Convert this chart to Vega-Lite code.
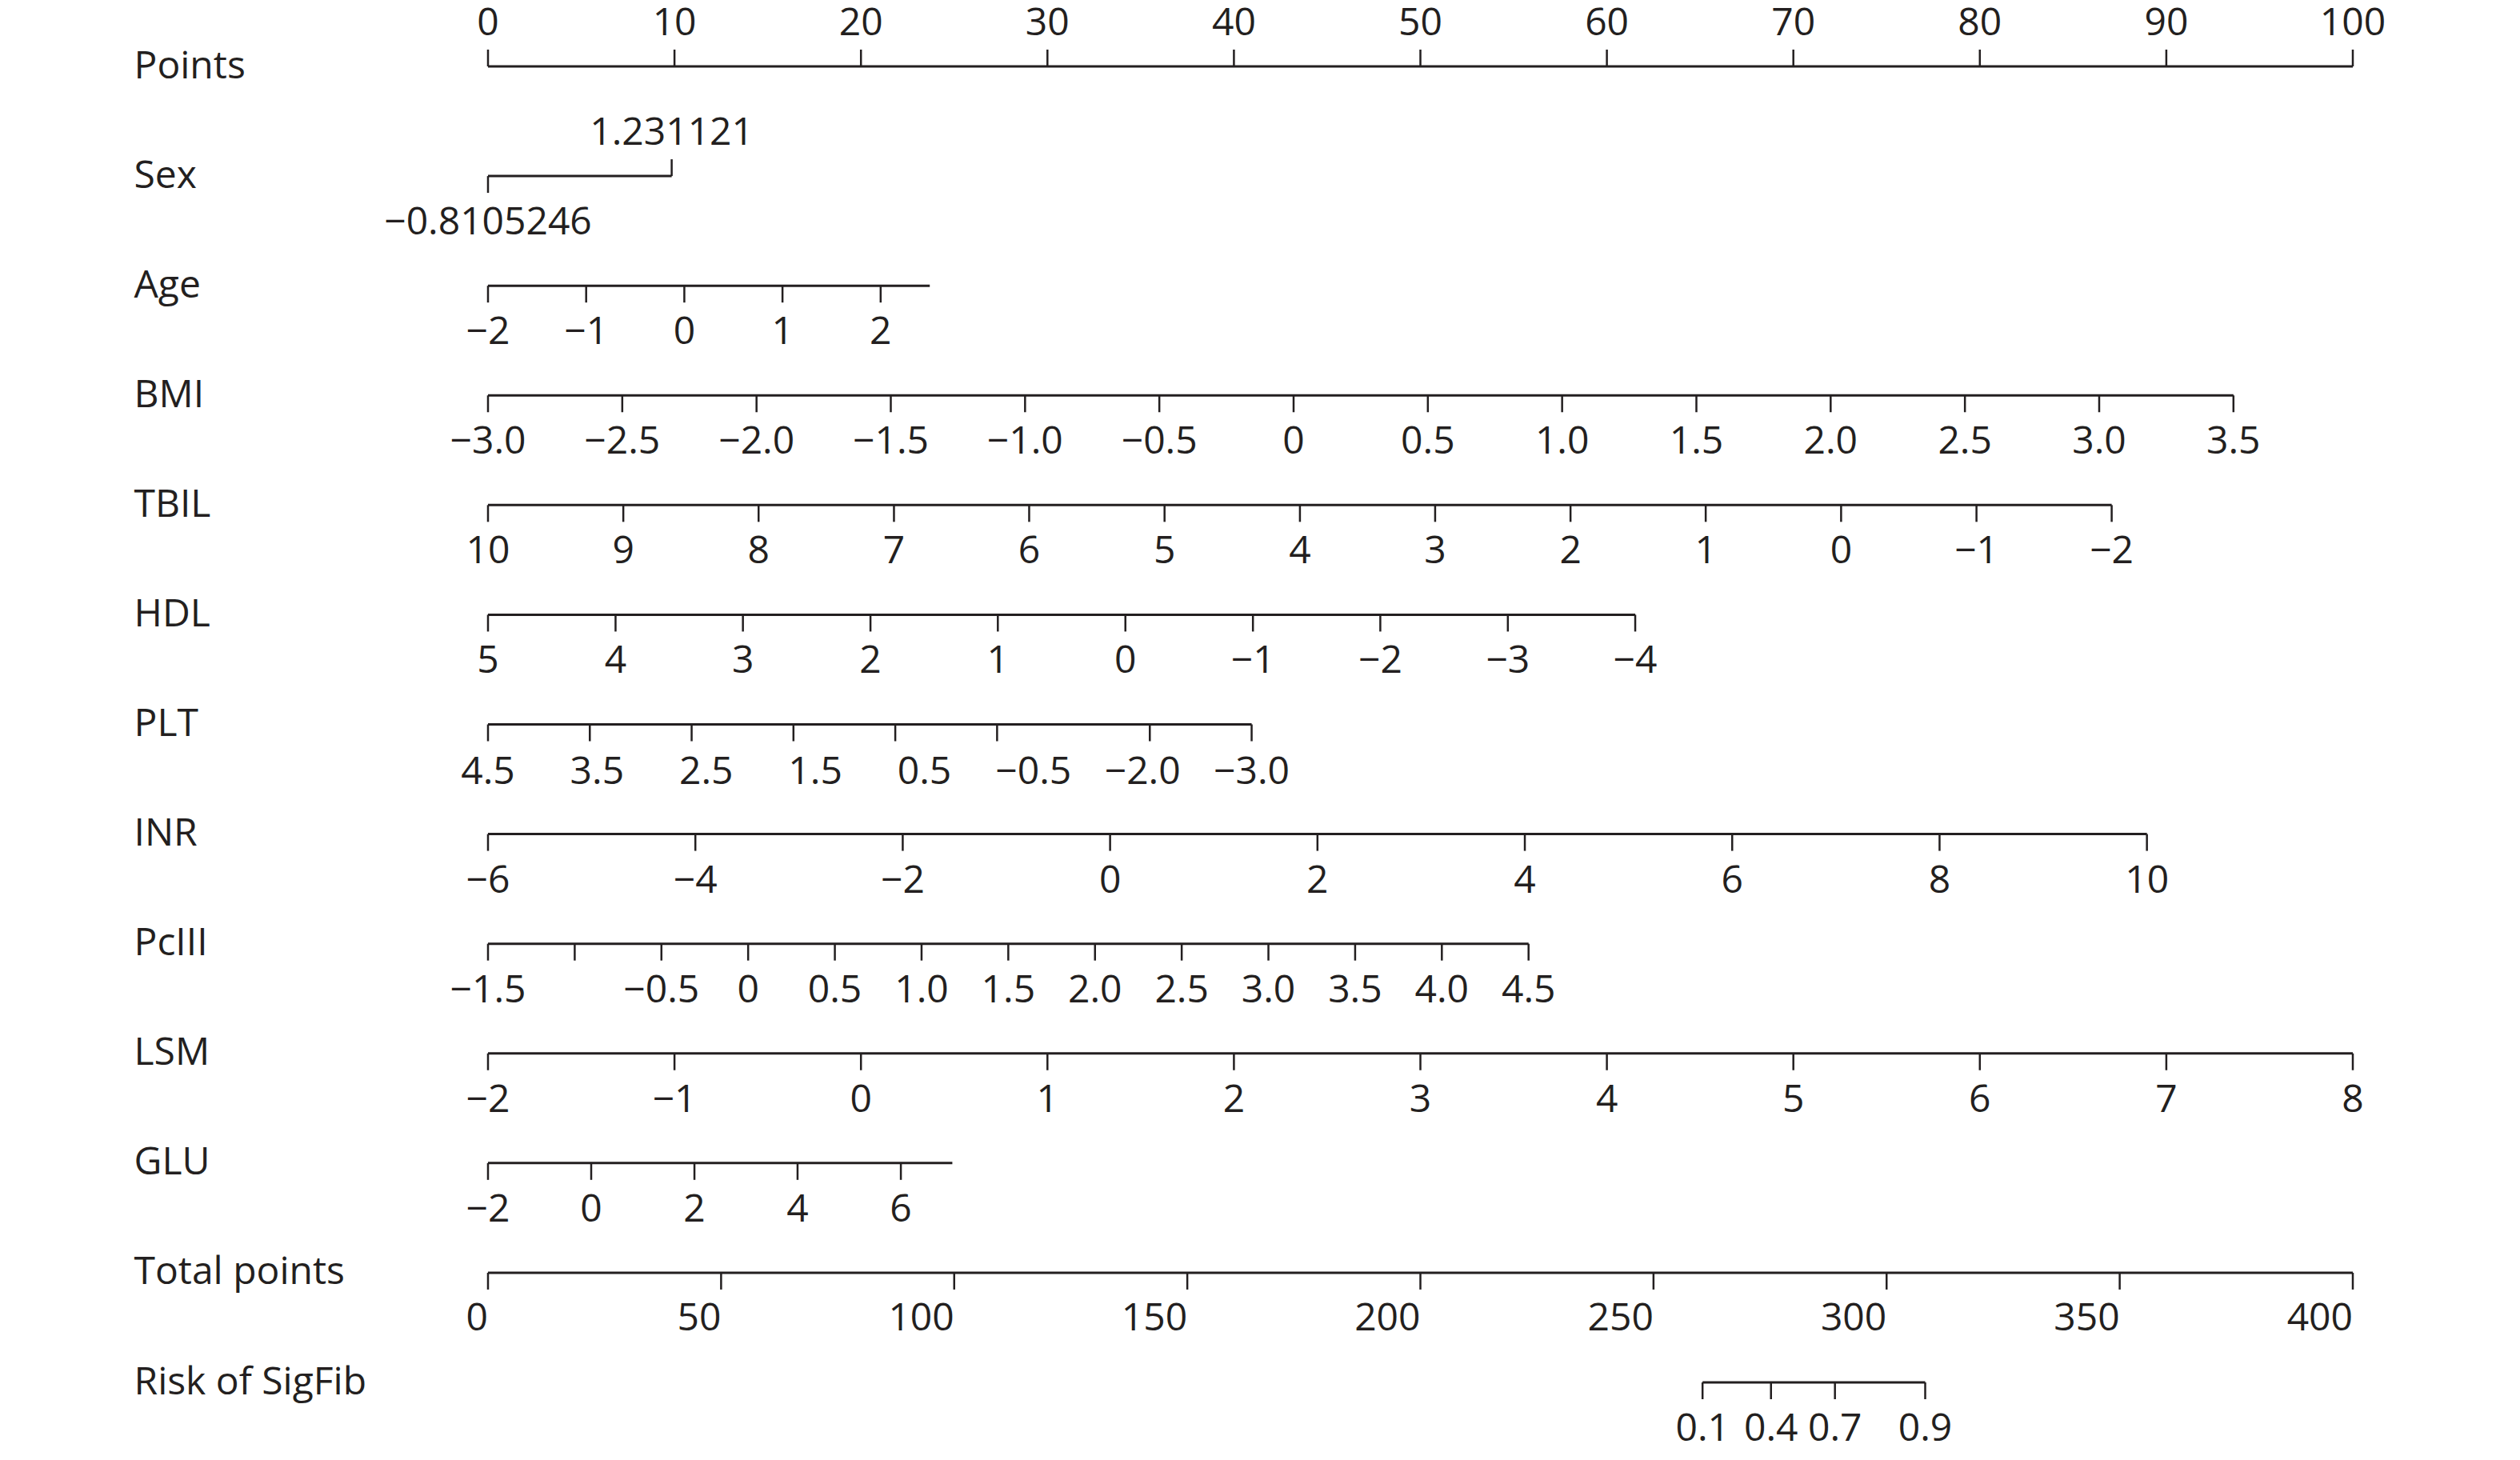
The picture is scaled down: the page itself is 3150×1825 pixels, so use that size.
{
  "$schema": "https://vega.github.io/schema/vega-lite/v6.json",
  "autosize": "none",
  "width": 2331,
  "height": 1645,
  "padding": {"left": 610, "top": 83, "right": 209, "bottom": 97},
  "background": "white",
  "config": {"view": {"stroke": null}, "font": "Open Sans"},
  "datasets": {
    "segs": [
      {"var": "Points", "from": 0, "to": 100},
      {"var": "Sex", "from": 0, "to": 9.85},
      {"var": "Age", "from": 0, "to": 23.69},
      {"var": "BMI", "from": 0, "to": 93.6},
      {"var": "TBIL", "from": 0, "to": 87.07},
      {"var": "HDL", "from": 0, "to": 61.52},
      {"var": "PLT", "from": 0, "to": 40.95},
      {"var": "INR", "from": 0, "to": 88.96},
      {"var": "PcIII", "from": 0, "to": 55.8},
      {"var": "LSM", "from": 0, "to": 100},
      {"var": "GLU", "from": 0, "to": 24.9},
      {"var": "Total points", "from": 0, "to": 100},
      {"var": "Risk of SigFib", "from": 65.13, "to": 77.07}
    ],
    "ticks": [
      {"var": "Points", "label": "0", "pts": 0},
      {"var": "Points", "label": "10", "pts": 10},
      {"var": "Points", "label": "20", "pts": 20},
      {"var": "Points", "label": "30", "pts": 30},
      {"var": "Points", "label": "40", "pts": 40},
      {"var": "Points", "label": "50", "pts": 50},
      {"var": "Points", "label": "60", "pts": 60},
      {"var": "Points", "label": "70", "pts": 70},
      {"var": "Points", "label": "80", "pts": 80},
      {"var": "Points", "label": "90", "pts": 90},
      {"var": "Points", "label": "100", "pts": 100},
      {"var": "Sex", "label": "−0.8105246", "pts": 0},
      {"var": "Sex", "label": "1.231121", "pts": 9.85},
      {"var": "Age", "label": "−2", "pts": 0},
      {"var": "Age", "label": "−1", "pts": 5.264},
      {"var": "Age", "label": "0", "pts": 10.528},
      {"var": "Age", "label": "1", "pts": 15.792},
      {"var": "Age", "label": "2", "pts": 21.056},
      {"var": "BMI", "label": "−3.0", "pts": 0},
      {"var": "BMI", "label": "−2.5", "pts": 7.2},
      {"var": "BMI", "label": "−2.0", "pts": 14.4},
      {"var": "BMI", "label": "−1.5", "pts": 21.6},
      {"var": "BMI", "label": "−1.0", "pts": 28.8},
      {"var": "BMI", "label": "−0.5", "pts": 36.0},
      {"var": "BMI", "label": "0", "pts": 43.2},
      {"var": "BMI", "label": "0.5", "pts": 50.4},
      {"var": "BMI", "label": "1.0", "pts": 57.6},
      {"var": "BMI", "label": "1.5", "pts": 64.8},
      {"var": "BMI", "label": "2.0", "pts": 72.0},
      {"var": "BMI", "label": "2.5", "pts": 79.2},
      {"var": "BMI", "label": "3.0", "pts": 86.4},
      {"var": "BMI", "label": "3.5", "pts": 93.6},
      {"var": "TBIL", "label": "10", "pts": 0},
      {"var": "TBIL", "label": "9", "pts": 7.256},
      {"var": "TBIL", "label": "8", "pts": 14.51},
      {"var": "TBIL", "label": "7", "pts": 21.77},
      {"var": "TBIL", "label": "6", "pts": 29.02},
      {"var": "TBIL", "label": "5", "pts": 36.28},
      {"var": "TBIL", "label": "4", "pts": 43.54},
      {"var": "TBIL", "label": "3", "pts": 50.79},
      {"var": "TBIL", "label": "2", "pts": 58.05},
      {"var": "TBIL", "label": "1", "pts": 65.3},
      {"var": "TBIL", "label": "0", "pts": 72.56},
      {"var": "TBIL", "label": "−1", "pts": 79.82},
      {"var": "TBIL", "label": "−2", "pts": 87.07},
      {"var": "HDL", "label": "5", "pts": 0},
      {"var": "HDL", "label": "4", "pts": 6.84},
      {"var": "HDL", "label": "3", "pts": 13.67},
      {"var": "HDL", "label": "2", "pts": 20.51},
      {"var": "HDL", "label": "1", "pts": 27.34},
      {"var": "HDL", "label": "0", "pts": 34.18},
      {"var": "HDL", "label": "−1", "pts": 41.02},
      {"var": "HDL", "label": "−2", "pts": 47.85},
      {"var": "HDL", "label": "−3", "pts": 54.69},
      {"var": "HDL", "label": "−4", "pts": 61.52},
      {"var": "PLT", "label": "4.5", "pts": 0, "lpts": 0},
      {"var": "PLT", "label": "3.5", "pts": 5.46, "lpts": 5.85},
      {"var": "PLT", "label": "2.5", "pts": 10.92, "lpts": 11.7},
      {"var": "PLT", "label": "1.5", "pts": 16.38, "lpts": 17.55},
      {"var": "PLT", "label": "0.5", "pts": 21.84, "lpts": 23.4},
      {"var": "PLT", "label": "−0.5", "pts": 27.3, "lpts": 29.25},
      {"var": "PLT", "label": "−2.0", "pts": 35.49, "lpts": 35.1},
      {"var": "PLT", "label": "−3.0", "pts": 40.95, "lpts": 40.95},
      {"var": "INR", "label": "−6", "pts": 0},
      {"var": "INR", "label": "−4", "pts": 11.12},
      {"var": "INR", "label": "−2", "pts": 22.24},
      {"var": "INR", "label": "0", "pts": 33.36},
      {"var": "INR", "label": "2", "pts": 44.48},
      {"var": "INR", "label": "4", "pts": 55.6},
      {"var": "INR", "label": "6", "pts": 66.72},
      {"var": "INR", "label": "8", "pts": 77.84},
      {"var": "INR", "label": "10", "pts": 88.96},
      {"var": "PcIII", "label": "−1.5", "pts": 0},
      {"var": "PcIII", "label": "", "pts": 4.65},
      {"var": "PcIII", "label": "−0.5", "pts": 9.3},
      {"var": "PcIII", "label": "0", "pts": 13.95},
      {"var": "PcIII", "label": "0.5", "pts": 18.6},
      {"var": "PcIII", "label": "1.0", "pts": 23.25},
      {"var": "PcIII", "label": "1.5", "pts": 27.9},
      {"var": "PcIII", "label": "2.0", "pts": 32.55},
      {"var": "PcIII", "label": "2.5", "pts": 37.2},
      {"var": "PcIII", "label": "3.0", "pts": 41.85},
      {"var": "PcIII", "label": "3.5", "pts": 46.5},
      {"var": "PcIII", "label": "4.0", "pts": 51.15},
      {"var": "PcIII", "label": "4.5", "pts": 55.8},
      {"var": "LSM", "label": "−2", "pts": 0},
      {"var": "LSM", "label": "−1", "pts": 10},
      {"var": "LSM", "label": "0", "pts": 20},
      {"var": "LSM", "label": "1", "pts": 30},
      {"var": "LSM", "label": "2", "pts": 40},
      {"var": "LSM", "label": "3", "pts": 50},
      {"var": "LSM", "label": "4", "pts": 60},
      {"var": "LSM", "label": "5", "pts": 70},
      {"var": "LSM", "label": "6", "pts": 80},
      {"var": "LSM", "label": "7", "pts": 90},
      {"var": "LSM", "label": "8", "pts": 100},
      {"var": "GLU", "label": "−2", "pts": 0},
      {"var": "GLU", "label": "0", "pts": 5.534},
      {"var": "GLU", "label": "2", "pts": 11.07},
      {"var": "GLU", "label": "4", "pts": 16.6},
      {"var": "GLU", "label": "6", "pts": 22.14},
      {"var": "Total points", "label": "0", "pts": 0},
      {"var": "Total points", "label": "50", "pts": 12.5},
      {"var": "Total points", "label": "100", "pts": 25},
      {"var": "Total points", "label": "150", "pts": 37.5},
      {"var": "Total points", "label": "200", "pts": 50},
      {"var": "Total points", "label": "250", "pts": 62.5},
      {"var": "Total points", "label": "300", "pts": 75},
      {"var": "Total points", "label": "350", "pts": 87.5},
      {"var": "Total points", "label": "400", "pts": 100},
      {"var": "Risk of SigFib", "label": "0.1", "pts": 65.13},
      {"var": "Risk of SigFib", "label": "0.4", "pts": 68.8},
      {"var": "Risk of SigFib", "label": "0.7", "pts": 72.23},
      {"var": "Risk of SigFib", "label": "0.9", "pts": 77.07}
    ]
  },
  "encoding": {
    "y": {
      "field": "var",
      "type": "nominal",
      "sort": ["Points", "Sex", "Age", "BMI", "TBIL", "HDL", "PLT", "INR", "PcIII", "LSM", "GLU", "Total points", "Risk of SigFib"],
      "scale": {"type": "point", "padding": 0},
      "axis": {
        "title": null,
        "domain": false,
        "ticks": false,
        "tickSize": 0,
        "labelPadding": 443,
        "labelAlign": "left",
        "labelBaseline": "middle",
        "labelFont": "Open Sans",
        "labelFontSize": 48,
        "labelColor": "#231f20",
        "labelLimit": 0
      }
    }
  },
  "layer": [
    {
      "data": {"name": "segs"},
      "mark": {"type": "rule", "strokeWidth": 3, "color": "#231f20"},
      "encoding": {
        "x": {"field": "from", "type": "quantitative", "scale": {"domain": [0, 100], "nice": false, "zero": false}, "axis": null},
        "x2": {"field": "to"}
      }
    },
    {
      "data": {"name": "ticks"},
      "transform": [{"filter": "!(datum.var === 'Points' || (datum.var === 'Sex' && datum.label === '1.231121'))"}],
      "mark": {"type": "tick", "orient": "vertical", "size": 21, "thickness": 2.5, "yOffset": 10.5, "color": "#231f20", "opacity": 1},
      "encoding": {
        "x": {"field": "pts", "type": "quantitative"}
      }
    },
    {
      "data": {"name": "ticks"},
      "transform": [{"filter": "datum.var === 'Points' || (datum.var === 'Sex' && datum.label === '1.231121')"}],
      "mark": {"type": "tick", "orient": "vertical", "size": 21, "thickness": 2.5, "yOffset": -10.5, "color": "#231f20", "opacity": 1},
      "encoding": {
        "x": {"field": "pts", "type": "quantitative"}
      }
    },
    {
      "data": {"name": "ticks"},
      "transform": [{"filter": "!(datum.var === 'Points' || datum.var === 'Total points' || datum.var === 'PLT' || (datum.var === 'Sex' && datum.label === '1.231121'))"}],
      "mark": {"type": "text", "font": "Open Sans", "fontSize": 48, "color": "#231f20", "align": "center", "baseline": "middle", "dy": 59},
      "encoding": {
        "x": {"field": "pts", "type": "quantitative"},
        "text": {"field": "label"}
      }
    },
    {
      "data": {"name": "ticks"},
      "transform": [{"filter": "datum.var === 'PLT'"}],
      "mark": {"type": "text", "font": "Open Sans", "fontSize": 48, "color": "#231f20", "align": "center", "baseline": "middle", "dy": 60},
      "encoding": {
        "x": {"field": "lpts", "type": "quantitative"},
        "text": {"field": "label"}
      }
    },
    {
      "data": {"name": "ticks"},
      "transform": [{"filter": "datum.var === 'Total points'"}],
      "mark": {"type": "text", "font": "Open Sans", "fontSize": 48, "color": "#231f20", "align": "right", "baseline": "middle", "dy": 58},
      "encoding": {
        "x": {"field": "pts", "type": "quantitative"},
        "text": {"field": "label"}
      }
    },
    {
      "data": {"name": "ticks"},
      "transform": [{"filter": "datum.var === 'Points' || (datum.var === 'Sex' && datum.label === '1.231121')"}],
      "mark": {"type": "text", "font": "Open Sans", "fontSize": 48, "color": "#231f20", "align": "center", "baseline": "middle", "dy": -53},
      "encoding": {
        "x": {"field": "pts", "type": "quantitative"},
        "text": {"field": "label"}
      }
    }
  ]
}
